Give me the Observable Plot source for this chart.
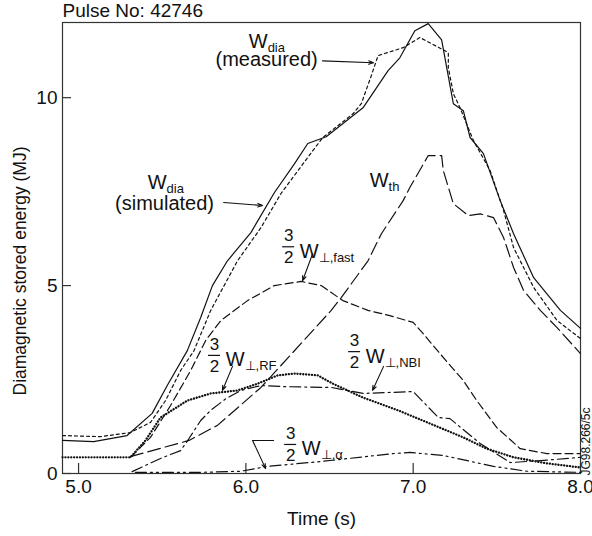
<!DOCTYPE html>
<html><head><meta charset="utf-8">
<script src="https://cdn.jsdelivr.net/npm/d3@7"></script>
<script src="https://cdn.jsdelivr.net/npm/@observablehq/plot@0.6"></script>
<style>html,body{margin:0;padding:0;background:#fff;overflow:hidden} svg{display:block}</style>
</head><body><div id="chart"></div><script>
// ---- data (time in s, energy in MJ) ----
const simT = [4.904,5.09,5.29,5.44,5.53,5.65,5.73,5.80,5.89,6.03,6.17,6.29,6.37,6.48,6.70,6.85,6.92,7.01,7.09,7.17,7.24,7.30,7.34,7.42,7.52,7.60,7.72,7.88,8.00];
const simV = [0.88,0.85,1.01,1.60,2.34,3.27,4.15,5.00,5.66,6.41,7.47,8.24,8.78,8.96,9.73,10.72,11.06,11.78,11.97,11.54,9.84,9.65,8.94,8.51,7.26,6.38,5.21,4.34,3.86];
const measT = [4.904,5.13,5.31,5.43,5.52,5.61,5.69,5.79,5.95,6.09,6.21,6.40,6.46,6.64,6.69,6.75,6.79,6.94,7.04,7.21,7.21,7.24,7.28,7.36,7.46,7.54,7.60,7.72,7.86,8.00];
const measV = [1.01,0.98,1.09,1.36,1.94,2.74,3.27,4.34,5.66,6.54,7.45,8.59,8.94,9.57,9.84,10.59,11.12,11.33,11.60,11.20,10.80,10.11,9.73,8.86,8.06,7.00,6.01,4.95,4.07,3.59];
const thT = [5.31,5.66,5.83,6.09,6.33,6.51,6.57,6.73,6.81,6.94,6.98,7.09,7.17,7.18,7.24,7.33,7.40,7.48,7.54,7.60,7.66,7.76,7.86,8.00];
const thV = [0.45,0.88,1.28,2.29,3.46,4.34,4.68,5.66,6.38,7.26,7.61,8.46,8.46,8.06,7.18,6.86,6.91,6.81,6.28,5.48,4.87,4.34,3.88,3.19];
const fastT = [5.31,5.43,5.55,5.67,5.76,5.85,6.01,6.17,6.33,6.45,6.58,6.73,6.86,7.00,7.06,7.16,7.30,7.38,7.50,7.64,7.80,8.00];
const fastV = [0.43,0.96,1.81,2.74,3.54,4.07,4.60,5.00,5.11,5.00,4.60,4.34,4.20,4.02,3.72,3.19,2.47,1.94,1.22,0.66,0.53,0.53];
const rfT = [4.904,5.31,5.40,5.49,5.65,5.79,5.95,6.07,6.19,6.29,6.43,6.52,6.70,6.91,7.10,7.30,7.44,7.60,7.80,8.00];
const rfV = [0.43,0.43,0.88,1.49,1.94,2.13,2.21,2.39,2.61,2.66,2.61,2.39,2.02,1.68,1.33,0.96,0.66,0.43,0.27,0.16];
const nbiT = [5.32,5.49,5.61,5.66,5.73,5.79,5.88,5.97,6.09,6.23,6.51,6.70,7.00,7.15,7.22,7.40,7.58,7.78,8.00];
const nbiV = [0.05,0.40,0.61,0.93,1.41,1.68,1.99,2.21,2.34,2.31,2.29,2.13,2.18,1.49,1.46,0.80,0.29,0.35,0.43];
const alphaT = [5.34,5.73,5.97,6.13,6.45,6.88,6.98,7.18,7.48,7.68,8.00];
const alphaV = [0.03,0.03,0.06,0.19,0.32,0.53,0.56,0.48,0.19,0.06,0.03];

const xTicks = [5.0, 6.0, 7.0, 8.0];
const yTicks = [0, 5, 10];
const titleText = "Pulse No: 42746";
const xTitle = "Time (s)";
const yTitle = "Diamagnetic stored energy (MJ)";
const stampText = "JG98.266/5c";

// annotation anchors: junction between "W" and its subscript (t, MJ)
const wLabels = [
  {t: 6.13,  v: 11.33, sub: "dia",     frac: false},
  {t: 5.526, v: 7.58,  sub: "dia",     frac: false},
  {t: 6.853, v: 7.63,  sub: "th",      frac: false},
  {t: 6.435, v: 5.74,  sub: "⊥,fast",  frac: true},
  {t: 5.992, v: 2.85,  sub: "⊥,RF",    frac: true},
  {t: 6.829, v: 2.95,  sub: "⊥,NBI",   frac: true},
  {t: 6.447, v: 0.48,  sub: "⊥,α",     frac: true}
];
const noteLines = [
  {t: 6.124, v: 10.85, text: "(measured)"},
  {t: 5.514, v: 7.02,  text: "(simulated)"}
];
const arrows = [
  {t1: 6.458, v1: 10.98, t2: 6.763, v2: 10.93},
  {t1: 5.867, v1: 7.21,  t2: 6.10,  v2: 7.13},
  {t1: 6.399, v1: 5.85,  t2: 6.339, v2: 5.13},
  {t1: 5.92,  v1: 2.85,  t2: 5.86,  v2: 2.21},
  {t1: 6.823, v1: 2.85,  t2: 6.757, v2: 2.21},
  {t1: 6.04,  v1: 0.88,  t2: 6.118, v2: 0.13}
];
const alphaBracketT = [6.166, 6.04];
const alphaBracketV = [0.88, 0.88];

const zip = (T, V) => T.map((t, i) => ({t, v: V[i]}));
const FONT = "'Liberation Sans', Arial, Helvetica, sans-serif";
const INK = "#111";
const fracs = wLabels.filter(d => d.frac);
const X0 = 4.904, X1 = 8.0, PLOTW = 592 - 62 - 12;
const tPerPx = (X1 - X0) / PLOTW;

const lineOpts = {x: "t", y: "v", stroke: INK, strokeWidth: 1.2, curve: "linear"};

const chart = Plot.plot({
  width: 592, height: 536,
  marginLeft: 62, marginRight: 12, marginTop: 22, marginBottom: 63,
  style: {fontFamily: FONT, fontSize: "19px", color: INK, background: "#fff", overflow: "visible"},
  x: {domain: [X0, X1]},
  y: {domain: [0, 12]},
  marks: [
    Plot.frame({stroke: "#333", strokeWidth: 1.2}),
    Plot.tickY(yTicks, {y: d => d, stroke: "#333", strokeWidth: 1.2, insetRight: PLOTW - 9}),
    Plot.tickX(xTicks, {x: d => d, stroke: "#333", strokeWidth: 1.2, insetTop: 451 - 10}),
    Plot.axisY({ticks: yTicks, tickSize: 0, tickPadding: 5, tickFormat: d => String(d), label: null, fontSize: 19, fill: INK}),
    Plot.axisX({ticks: xTicks, tickSize: 0, tickPadding: 6, tickFormat: d3.format(".1f"), label: null, fontSize: 19, fill: INK}),
    // curves
    Plot.line(zip(alphaT, alphaV), {...lineOpts, strokeDasharray: "11,4,2,4,2,4"}),
    Plot.line(zip(nbiT, nbiV), {...lineOpts, strokeDasharray: "11,4,2,4"}),
    Plot.line(zip(rfT, rfV), {...lineOpts, strokeWidth: 2.3, strokeDasharray: "0.1,2.8", strokeLinecap: "round"}),
    Plot.line(zip(fastT, fastV), {...lineOpts, strokeDasharray: "8,4"}),
    Plot.line(zip(thT, thV), {...lineOpts, strokeDasharray: "13,5"}),
    Plot.line(zip(measT, measV), {...lineOpts, strokeDasharray: "3,3"}),
    Plot.line(zip(simT, simV), {...lineOpts}),
    // annotation arrows
    Plot.line(zip(alphaBracketT, alphaBracketV), {x: "t", y: "v", stroke: INK, strokeWidth: 1.1}),
    Plot.arrow(arrows, {x1: "t1", y1: "v1", x2: "t2", y2: "v2", stroke: INK, strokeWidth: 1.1, headLength: 7, headAngle: 40}),
    // labels: W + subscript
    Plot.text(wLabels, {x: "t", y: "v", text: () => "W", textAnchor: "end", lineAnchor: "bottom", fontSize: 20, fill: INK}),
    Plot.text(wLabels, {x: "t", y: "v", text: "sub", textAnchor: "start", lineAnchor: "bottom", dy: 4, fontSize: 13, fill: INK}),
    // fractions 3/2
    Plot.text(fracs, {x: "t", y: "v", text: () => "3", dx: -30, dy: -22, lineAnchor: "middle", fontSize: 17, fill: INK}),
    Plot.ruleY(fracs, {y: "v", x1: d => d.t - 36 * tPerPx, x2: d => d.t - 24 * tPerPx, dy: -11, stroke: INK, strokeWidth: 1.2}),
    Plot.text(fracs, {x: "t", y: "v", text: () => "2", dx: -30, dy: 0, lineAnchor: "middle", fontSize: 17, fill: INK}),
    Plot.text(noteLines, {x: "t", y: "v", text: "text", lineAnchor: "bottom", fontSize: 20, fill: INK}),
    // titles
    Plot.text([titleText], {frameAnchor: "top-left", textAnchor: "start", lineAnchor: "bottom", dy: -6, fontSize: 19, fill: INK}),
    Plot.text([xTitle], {frameAnchor: "bottom", lineAnchor: "bottom", dy: 51, fontSize: 19, fill: INK}),
    Plot.text([yTitle], {frameAnchor: "left", rotate: -90, textAnchor: "middle", lineAnchor: "middle", dx: -42, dy: 23, fontSize: 17.5, fill: INK}),
    Plot.text([stampText], {frameAnchor: "bottom-right", rotate: -90, textAnchor: "start", lineAnchor: "middle", dx: 6, dy: 2, fontSize: 12, fill: INK})
  ]
});
document.getElementById("chart").appendChild(chart);
</script></body></html>
